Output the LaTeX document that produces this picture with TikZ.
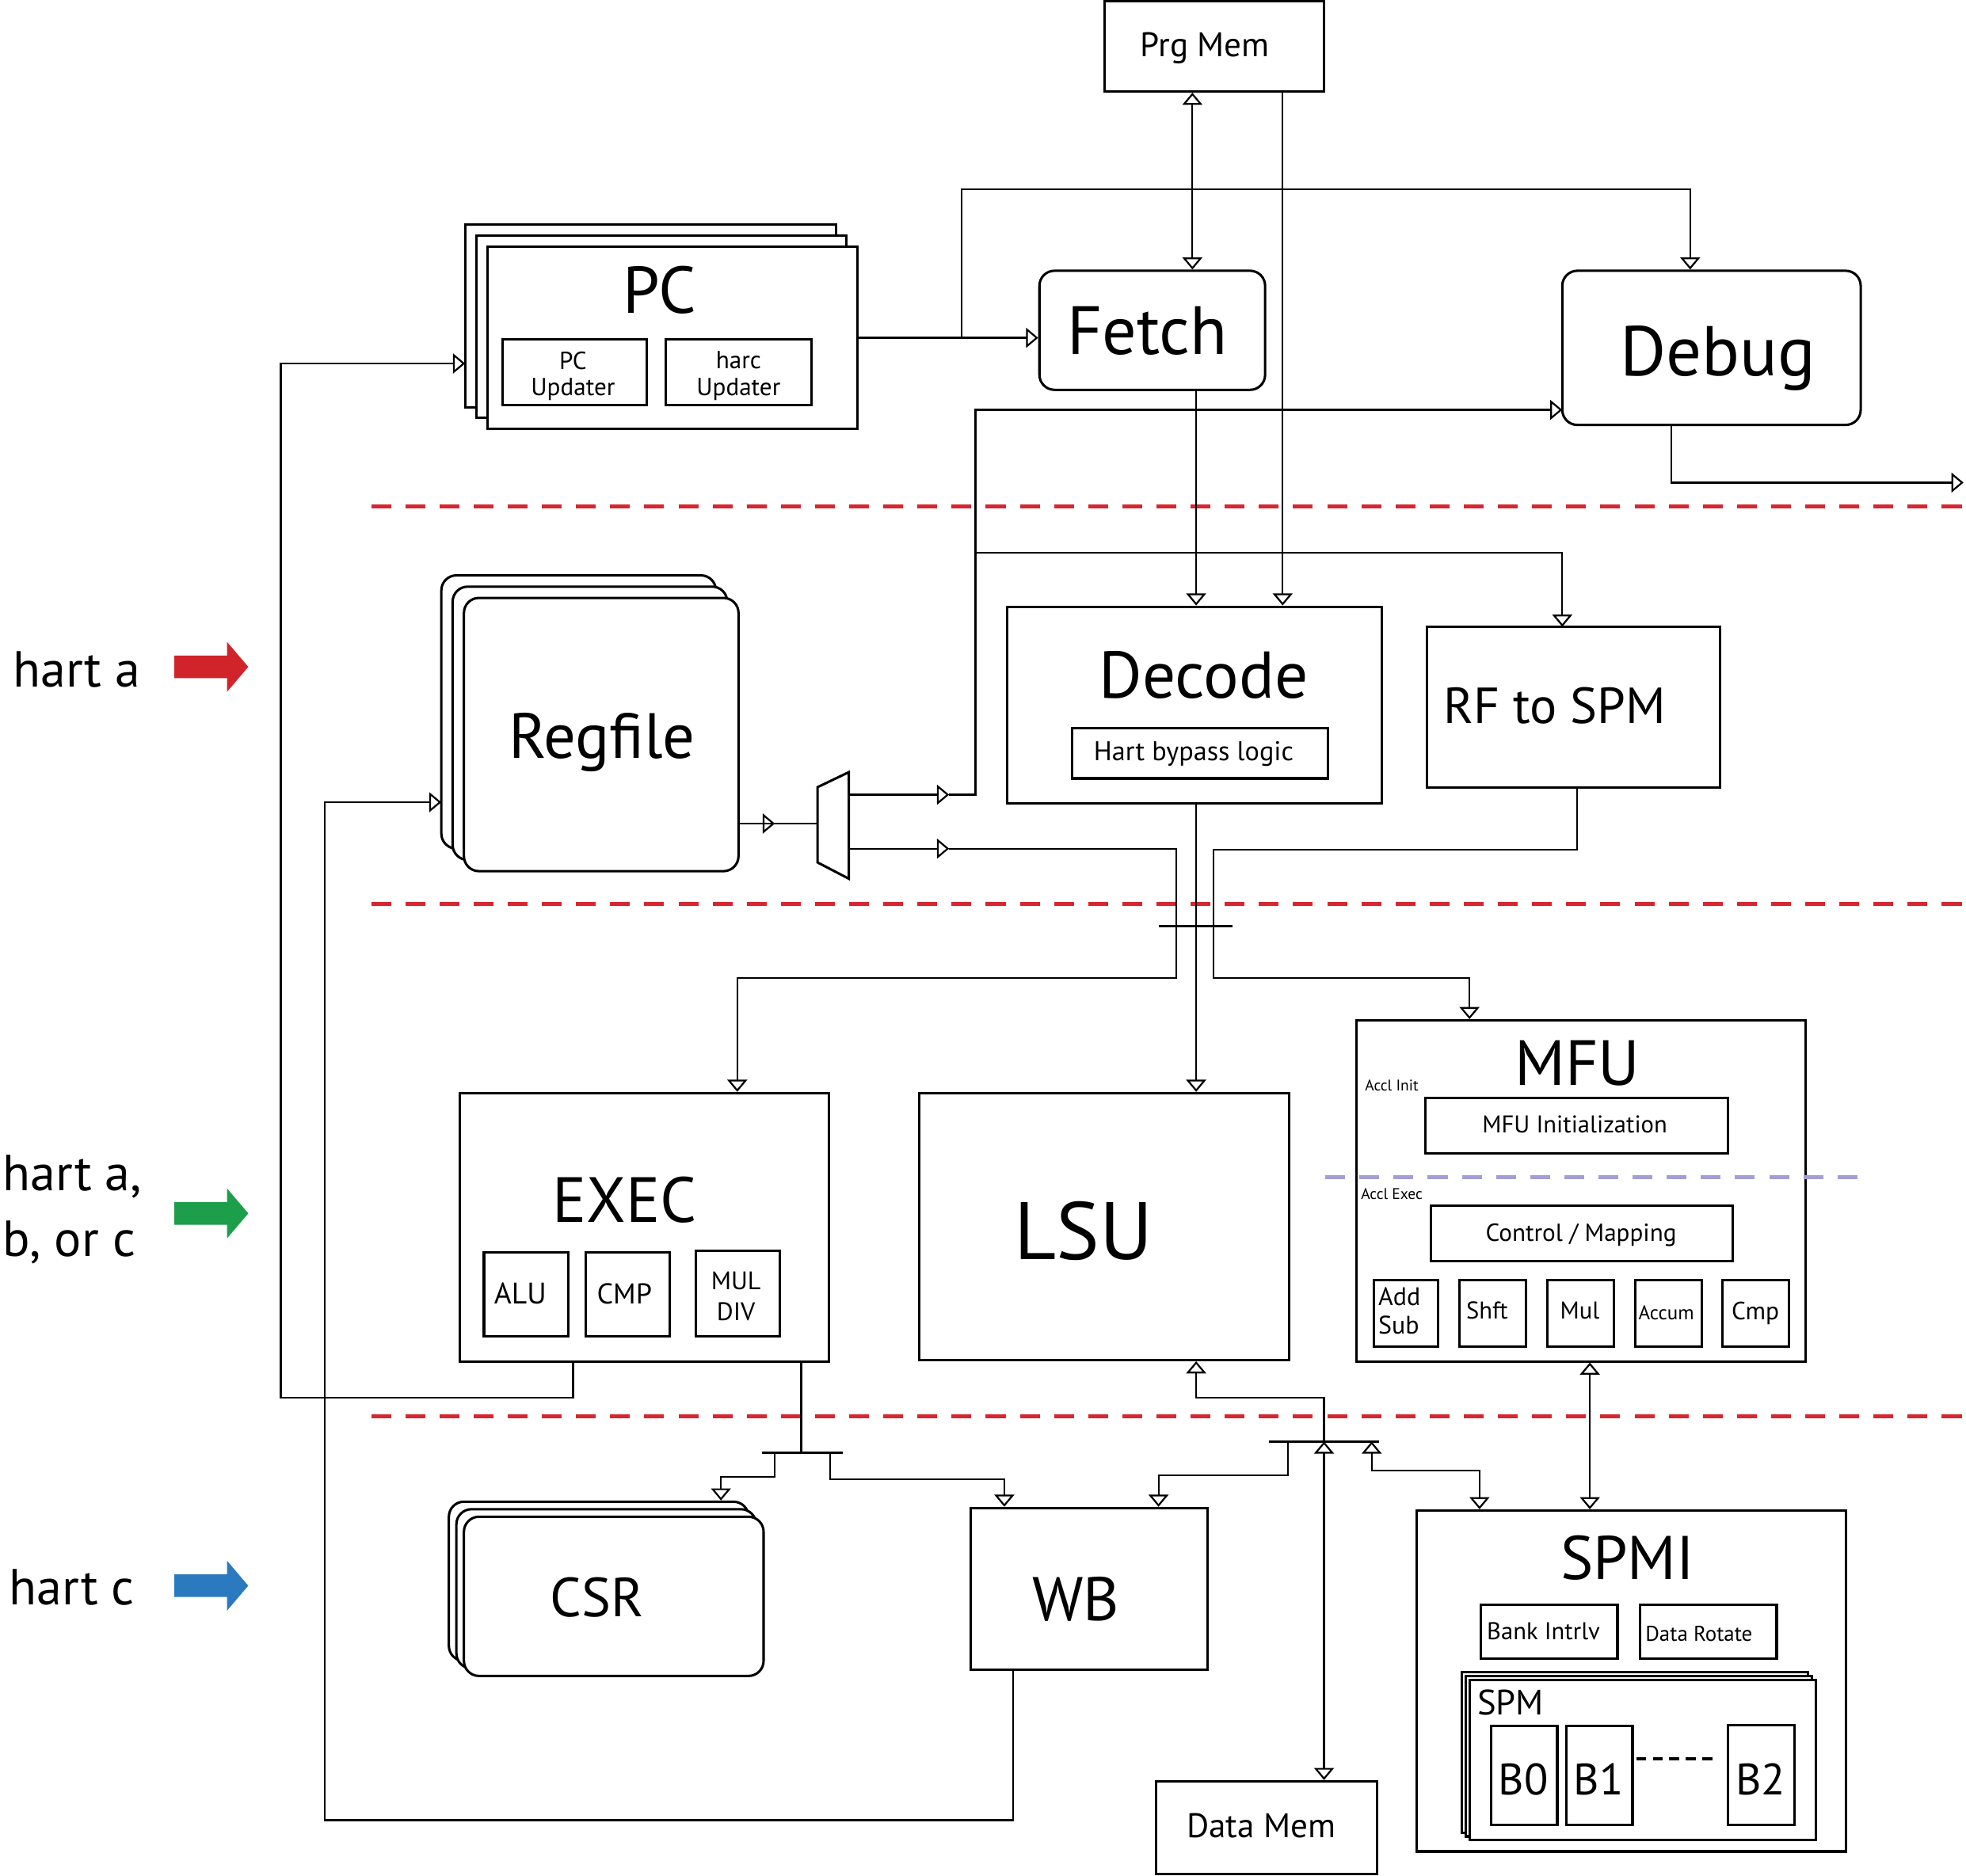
\documentclass[tikz,border=0pt]{standalone}
\usepackage{fontspec}
\setmainfont{PT Sans}
\usepackage{xcolor}
\usepackage{tikz}
\usetikzlibrary{positioning, calc, fit, arrows.meta}
\definecolor{stageRed}{RGB}{214,39,48}
\definecolor{acclPurple}{RGB}{163,158,214}
\definecolor{hartRed}{RGB}{209,35,42}
\definecolor{hartGreen}{RGB}{28,158,74}
\definecolor{hartBlue}{RGB}{43,122,192}
\tikzset{
    block/.style={
        draw,
        line width=1.1pt,
        fill=white,
        inner sep=0pt
    },
    rblock/.style={block, rounded corners=0.24cm},
    unitbox/.style={draw, line width=1.1pt, inner sep=0pt},
    wire/.style={line width=0.8pt},
    ptr/.style={wire, -{Triangle[open, length=5.5pt, width=9pt]}},
    biptr/.style={wire, {Triangle[open, length=5.5pt, width=9pt]}-{Triangle[open, length=5.5pt, width=9pt]}},
    busBar/.style={line width=1.2pt},
    stageLine/.style={draw=stageRed, line width=1.7pt, dash pattern=on 9pt off 6.5pt},
    acclLine/.style={draw=acclPurple, line width=1.7pt, dash pattern=on 9pt off 6.5pt},
    bankGap/.style={line width=1.2pt, dash pattern=on 4.5pt off 3pt},
    blockLabel/.style={font=\fontsize{#1}{#1}\selectfont, inner sep=0pt, anchor=base},
    hartText/.style={font=\fontsize{23}{29.6}\selectfont, inner sep=0pt}
}

\begin{document}
\begin{tikzpicture}[x=0.02cm, y=-0.02cm]
    \useasboundingbox (0,0) rectangle (1568,1496);

    % stage boundaries
    \draw[stageLine] (296,404) -- (1568,404);
    \draw[stageLine] (296,721) -- (1568,721);
    \draw[stageLine] (296,1130) -- (1568,1130);

    % harts
    \node[hartText, anchor=base west] (hart_a) at (10,548) {hart a};
    \node[hartText, anchor=west, align=left] (hart_abc) at (2,965) {hart a,\\b, or c};
    \node[hartText, anchor=base west] (hart_c) at (7,1280) {hart c};
    \foreach \col/\y in {hartRed/532, hartGreen/968, hartBlue/1265}
        \fill[\col] (139,\y-9) -- (181,\y-9) -- (181,\y-20) -- (198,\y) -- (181,\y+20) -- (181,\y+9) -- (139,\y+9) -- cycle;

    % fetch stage
    \node[block, fit={(881,1) (1056,73)}] (prg_mem) {};
    \node[blockLabel=15.5] (prg_mem_txt) at (961,45) {Prg Mem};

    \node[block, fit={(371,179) (667,325)}] (pc_back) {};
    \node[block, fit={(380,188) (675,333)}] (pc_mid) {};
    \node[block, fit={(389,197) (684,342)}] (pc) {};
    \node[blockLabel=30] (pc_txt) at (526,250) {PC};
    \node[unitbox, fit={(401,271) (516,323)}] (pc_upd) {};
    \node[unitbox, fit={(531,271) (647,323)}] (harc_upd) {};
    \node[font=\fontsize{11.2}{12}\selectfont, align=center, inner sep=0pt] (pc_upd_txt) at (457,300) {PC\\Updater};
    \node[font=\fontsize{11.2}{12}\selectfont, align=center, inner sep=0pt] (harc_upd_txt) at (589,300) {harc\\Updater};

    \node[rblock, fit={(829,216) (1009,311)}] (fetch) {};
    \node[blockLabel=31] (fetch_txt) at (915,283) {Fetch};
    \node[rblock, fit={(1246,216) (1484,339)}] (debug) {};
    \node[blockLabel=32] (debug_txt) at (1370,300) {Debug};

    % decode stage
    \node[rblock, fit={(352,459) (571,677)}] (rf_back) {};
    \node[rblock, fit={(361,468) (580,686)}] (rf_mid) {};
    \node[rblock, fit={(370,477) (589,695)}] (regfile) {};
    \node[blockLabel=29] (regfile_txt) at (480,605) {Regfile};

    \node[block, fit={(803,484) (1102,641)}] (decode) {};
    \node[blockLabel=30] (decode_txt) at (960,557) {Decode};
    \node[unitbox, fit={(855,581) (1059,621)}] (bypass) {};
    \node[blockLabel=12.3] (bypass_txt) at (952,607) {Hart bypass logic};

    \node[block, fit={(1138,500) (1372,628)}] (rf_spm) {};
    \node[blockLabel=23] (rf_spm_txt) at (1240,577) {RF to SPM};

    \draw[block] (652,628) -- (677,616) -- (677,701) -- (652,688) -- cycle;
    \coordinate (mux_in) at (652,657);
    \coordinate (mux_oa) at (677,634);
    \coordinate (mux_ob) at (677,677);

    % execute stage
    \node[block, fit={(367,872) (661,1086)}] (exec) {};
    \node[blockLabel=29] (exec_txt) at (498,975) {EXEC};
    \node[unitbox, fit={(386,999) (453,1066)}] (alu) {};
    \node[unitbox, fit={(467,999) (534,1066)}] (cmp_e) {};
    \node[unitbox, fit={(555,998) (622,1066)}] (muldiv) {};
    \node[blockLabel=13.5] (alu_txt) at (415,1040) {ALU};
    \node[blockLabel=13] (cmp_e_txt) at (498,1040) {CMP};
    \node[font=\fontsize{11.5}{14.2}\selectfont, align=center, inner sep=0pt] (muldiv_txt) at (587,1034) {MUL\\DIV};

    \node[block, fit={(733,872) (1028,1085)}] (lsu) {};
    \node[blockLabel=37] (lsu_txt) at (864,1005) {LSU};

    \node[block, fit={(1082,814) (1440,1086)}] (mfu) {};
    \node[blockLabel=29] (mfu_txt) at (1258,866) {MFU};
    \node[blockLabel=7] (accl_init) at (1110,870) {Accl Init};
    \node[unitbox, fit={(1137,876) (1378,920)}] (mfu_init) {};
    \node[blockLabel=11] (mfu_init_txt) at (1256,904) {MFU Initialization};
    \draw[acclLine] (1057,939) -- (1490,939);
    \node[blockLabel=7] (accl_exec) at (1110,957) {Accl Exec};
    \node[unitbox, fit={(1141,962) (1382,1006)}] (ctrl_map) {};
    \node[blockLabel=11.2] (ctrl_map_txt) at (1261,990) {Control / Mapping};
    \node[unitbox, fit={(1096,1021) (1147,1074)}] (add_sub) {};
    \node[unitbox, fit={(1164,1021) (1217,1074)}] (shft) {};
    \node[unitbox, fit={(1234,1021) (1287,1074)}] (mul) {};
    \node[unitbox, fit={(1304,1021) (1357,1074)}] (accum) {};
    \node[unitbox, fit={(1374,1021) (1427,1074)}] (cmp_m) {};
    \node[font=\fontsize{11.5}{13}\selectfont, align=left, inner sep=0pt, anchor=west] (add_sub_txt) at (1099,1046) {Add\\Sub};
    \node[blockLabel=11] (shft_txt) at (1186,1052) {Shft};
    \node[blockLabel=11] (mul_txt) at (1260,1052) {Mul};
    \node[blockLabel=9] (accum_txt) at (1329,1053) {Accum};
    \node[blockLabel=11.3] (cmp_m_txt) at (1400,1053) {Cmp};

    % writeback / memory
    \node[rblock, fit={(358,1198) (597,1325)}] (csr_back) {};
    \node[rblock, fit={(364,1204) (603,1331)}] (csr_mid) {};
    \node[rblock, fit={(370,1210) (609,1337)}] (csr) {};
    \node[blockLabel=25] (csr_txt) at (476,1290) {CSR};

    \node[block, fit={(774,1203) (963,1332)}] (wb) {};
    \node[blockLabel=28] (wb_txt) at (858,1293) {WB};

    \node[block, fit={(922,1421) (1098,1495)}] (data_mem) {};
    \node[blockLabel=15.5] (data_mem_txt) at (1006,1466) {Data Mem};

    \node[block, fit={(1130,1205) (1472,1477)}] (spmi) {};
    \node[blockLabel=28] (spmi_txt) at (1298,1260) {SPMI};
    \node[unitbox, fit={(1181,1280) (1290,1323)}] (bank) {};
    \node[unitbox, fit={(1308,1280) (1417,1323)}] (rotate) {};
    \node[blockLabel=11] (bank_txt) at (1231,1308) {Bank Intrlv};
    \node[blockLabel=9.7] (rotate_txt) at (1355,1309) {Data Rotate};
    \node[block, fit={(1166,1334) (1442,1462)}] (spm_back) {};
    \node[block, fit={(1169,1337) (1445,1465)}] (spm_mid) {};
    \node[block, fit={(1172,1340) (1448,1468)}] (spm) {};
    \node[blockLabel=16, anchor=base west] (spm_txt) at (1178,1368) {SPM};
    \node[unitbox, fit={(1189,1377) (1242,1456)}] (b0) {};
    \node[unitbox, fit={(1249,1377) (1302,1456)}] (b1) {};
    \node[unitbox, fit={(1378,1376) (1431,1456)}] (b2) {};
    \node[blockLabel=20] (b0_txt) at (1215,1432) {B0};
    \node[blockLabel=20] (b1_txt) at (1275,1432) {B1};
    \node[blockLabel=20] (b2_txt) at (1404,1432) {B2};
    \coordinate (gap_l) at (1305,1403);
    \coordinate (gap_r) at (1370,1403);
    \draw[bankGap] (gap_l) -- (gap_r);

    % connectors, top
    \coordinate (prg_x) at (951,0);
    \coordinate (prg_dec_x) at (1023,0);
    \coordinate (dec_x) at (954,0);
    \draw[biptr] (prg_mem.south -| prg_x) -- (fetch.north -| prg_x);
    \draw[ptr] (prg_mem.south -| prg_dec_x) -- (decode.north -| prg_dec_x);
    \draw[ptr] (fetch.south -| dec_x) -- (decode.north -| dec_x);
    \draw[ptr] (pc.east) -- (fetch.west |- pc.east);
    \coordinate (pc_tap) at (767,269);
    \coordinate (dbg_top) at (1348,151);
    \draw[ptr] (pc_tap) |- (dbg_top) -- (debug.north -| dbg_top);
    \coordinate (dbg_out) at (1566,385);
    \coordinate (dbg_x) at (1333,0);
    \draw[ptr] (debug.south -| dbg_x) |- (dbg_out);

    % mux outputs
    \coordinate (rf_tip) at (618,657);
    \draw[wire] (mux_in -| regfile.east) -- (mux_in);
    \draw[ptr] (mux_in -| regfile.east) -- (rf_tip);
    \coordinate (tip_oa) at (757,634);
    \coordinate (turn_oa) at (778,634);
    \coordinate (dbg_side) at (1246,327);
    \draw[ptr] (mux_oa) -- (tip_oa);
    \draw[ptr] (tip_oa) -- (turn_oa) |- (dbg_side);
    \coordinate (rf_tap) at (778,441);
    \coordinate (rf_spm_in) at (1246,500);
    \draw[ptr] (rf_tap) -| (rf_spm_in);
    \coordinate (tip_ob) at (757,677);
    \coordinate (ex_a) at (938,780);
    \coordinate (ex_b) at (588,780);
    \draw[ptr] (mux_ob) -- (tip_ob);
    \draw[ptr] (tip_ob) -| (ex_a) -- (ex_b) -- (exec.north -| ex_b);

    % decode to execute
    \draw[ptr] (decode.south -| dec_x) -- (lsu.north -| dec_x);
    \coordinate (mf_a) at (1258,678);
    \coordinate (mf_b) at (968,678);
    \coordinate (mf_c) at (968,780);
    \coordinate (mf_d) at (1172,780);
    \draw[ptr] (rf_spm.south -| mf_a) -- (mf_a) -- (mf_b) -- (mf_c) -- (mf_d) -- (mfu.north -| mf_d);
    \coordinate (xbar_l) at (924,739);
    \coordinate (xbar_r) at (983,739);
    \draw[busBar] (xbar_l) -- (xbar_r);

    % feedback paths
    \coordinate (pc_fb_a) at (457,1115);
    \coordinate (pc_fb_b) at (224,1115);
    \coordinate (pc_in) at (371,290);
    \draw[ptr] (exec.south -| pc_fb_a) -- (pc_fb_a) -- (pc_fb_b) |- (pc_in);
    \coordinate (rf_fb_a) at (808,1452);
    \coordinate (rf_fb_b) at (259,1452);
    \coordinate (rf_in) at (352,640);
    \draw[ptr] (wb.south -| rf_fb_a) -- (rf_fb_a) -- (rf_fb_b) |- (rf_in);

    % execute to writeback
    \coordinate (ex_out) at (639,1159);
    \coordinate (ex_bar_l) at (608,1159);
    \coordinate (ex_bar_r) at (672,1159);
    \draw[wire] (exec.south -| ex_out) -- (ex_out);
    \draw[busBar] (ex_bar_l) -- (ex_bar_r);
    \coordinate (csr_tap) at (618,1159);
    \coordinate (csr_turn) at (575,1178);
    \draw[ptr] (csr_tap) |- (csr_turn) -- (csr_back.north -| csr_turn);
    \coordinate (wb_tap) at (662,1159);
    \coordinate (wb_turn) at (801,1180);
    \draw[ptr] (wb_tap) |- (wb_turn) -- (wb.north -| wb_turn);

    % memory bus
    \coordinate (mem_bar_l) at (1012,1150);
    \coordinate (mem_bar_r) at (1100,1150);
    \draw[busBar] (mem_bar_l) -- (mem_bar_r);
    \coordinate (dm_tap) at (1056,1150);
    \coordinate (lsu_turn) at (954,1115);
    \draw[ptr] (dm_tap) |- (lsu_turn) -- (lsu.south -| lsu_turn);
    \draw[biptr] (dm_tap) -- (data_mem.north -| dm_tap);
    \coordinate (sp_tap) at (1094,1150);
    \coordinate (sp_turn) at (1180,1173);
    \draw[biptr] (sp_tap) |- (sp_turn) -- (spmi.north -| sp_turn);
    \coordinate (wb_mem_tap) at (1027,1150);
    \coordinate (wb_mem_turn) at (924,1177);
    \draw[ptr] (wb_mem_tap) |- (wb_mem_turn) -- (wb.north -| wb_mem_turn);
    \coordinate (ms_x) at (1268,0);
    \draw[biptr] (mfu.south -| ms_x) -- (spmi.north -| ms_x);
\end{tikzpicture}
\end{document}
